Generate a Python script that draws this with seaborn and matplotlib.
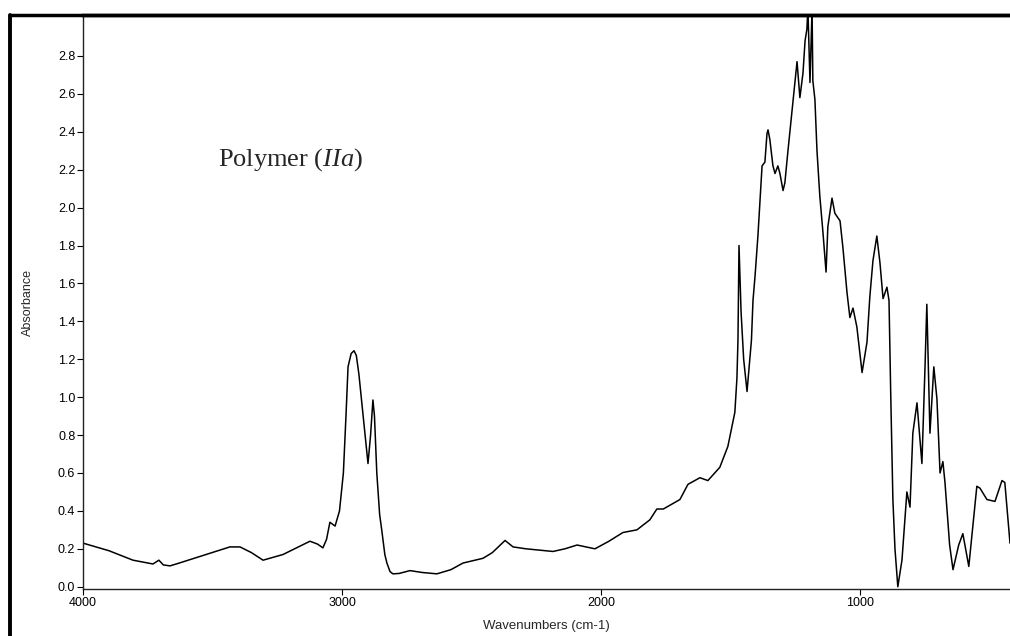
import matplotlib
matplotlib.use("Agg")
import matplotlib.pyplot as plt
from matplotlib.lines import Line2D
import seaborn as sns
import pandas as pd

# IR absorbance spectrum of polymer IIa (wavenumber in cm-1, absorbance)
wavenumbers = [
    4000, 3900, 3807, 3730, 3707, 3690, 3664, 3626, 3548, 3480, 3433, 3394,
    3350, 3305, 3228, 3124, 3095, 3074, 3060, 3047, 3027, 3010, 2995, 2985,
    2977, 2965, 2954, 2945, 2935, 2920, 2900, 2890, 2881, 2875, 2866, 2855,
    2847, 2835, 2827, 2815, 2804, 2780, 2738, 2690, 2634, 2580, 2533, 2456,
    2420, 2371, 2340, 2290, 2186, 2140, 2093, 2024, 1970, 1916, 1862, 1812,
    1785, 1760, 1696, 1665, 1619, 1588, 1542, 1511, 1484, 1476, 1472, 1468,
    1460, 1450, 1437, 1420, 1414, 1406, 1395, 1387, 1379, 1368, 1360, 1356,
    1349, 1337, 1329, 1318, 1310, 1298, 1291, 1279, 1264, 1244, 1233, 1221,
    1213, 1206, 1202, 1194, 1186, 1183, 1175, 1167, 1156, 1144, 1132, 1125,
    1109, 1098, 1078, 1067, 1051, 1040, 1028, 1013, 993, 974, 963, 951, 936,
    924, 912, 897, 889, 882, 874, 866, 855, 839, 820, 808, 797, 781, 762, 750,
    743, 731, 716, 704, 692, 681, 673, 655, 642, 620, 604, 581, 550, 538, 511,
    480, 453, 442, 422,
]
absorbance = [
    0.23, 0.19, 0.14, 0.12, 0.14, 0.115, 0.11, 0.126, 0.16, 0.19, 0.21, 0.21,
    0.18, 0.14, 0.17, 0.24, 0.225, 0.205, 0.25, 0.34, 0.32, 0.40, 0.60, 0.90,
    1.16, 1.23, 1.245, 1.22, 1.12, 0.92, 0.65, 0.80, 0.985, 0.90, 0.60, 0.38,
    0.30, 0.17, 0.125, 0.08, 0.068, 0.07, 0.085, 0.075, 0.068, 0.09, 0.125, 0.15,
    0.18, 0.244, 0.21, 0.20, 0.186, 0.20, 0.22, 0.20, 0.24, 0.286, 0.30, 0.353,
    0.41, 0.41, 0.46, 0.54, 0.575, 0.56, 0.63, 0.74, 0.92, 1.10, 1.30, 1.80,
    1.45, 1.20, 1.03, 1.30, 1.51, 1.64, 1.85, 2.04, 2.22, 2.24, 2.39, 2.41,
    2.36, 2.22, 2.18, 2.22, 2.18, 2.09, 2.13, 2.30, 2.50, 2.77, 2.58, 2.71,
    2.88, 2.94, 3.05, 2.66, 3.05, 2.67, 2.57, 2.30, 2.06, 1.87, 1.66, 1.90,
    2.05, 1.97, 1.93, 1.79, 1.55, 1.42, 1.47, 1.37, 1.13, 1.29, 1.53, 1.72, 1.85,
    1.71, 1.52, 1.58, 1.51, 0.99, 0.46, 0.20, 0.0, 0.14, 0.50, 0.42, 0.81, 0.97, 0.65,
    1.16, 1.49, 0.81, 1.16, 0.99, 0.60, 0.66, 0.55, 0.22, 0.09, 0.22, 0.28, 0.107, 0.53,
    0.52, 0.46, 0.45, 0.56, 0.55, 0.23,
]

y_ticks = [0.0, 0.2, 0.4, 0.6, 0.8, 1.0, 1.2, 1.4, 1.6, 1.8, 2.0, 2.2, 2.4, 2.6, 2.8]
x_ticks = [4000, 3000, 2000, 1000]

sns.set_style("ticks")
plt.rcParams["font.family"] = ["Liberation Sans", "DejaVu Sans"]
plt.rcParams["mathtext.fontset"] = "custom"
plt.rcParams["mathtext.rm"] = "Liberation Serif"
plt.rcParams["mathtext.it"] = "Liberation Serif:italic"

W, H = 1010, 636
fig = plt.figure(figsize=(W / 100, H / 100), dpi=100)
fig.patch.set_facecolor("white")

left, right, top, bottom = 83, 1010, 15, 589
ax = fig.add_axes([left / W, 1 - bottom / H, (right - left) / W, (bottom - top) / H])

df = pd.DataFrame({"wavenumber": wavenumbers, "absorbance": absorbance})
sns.lineplot(data=df, x="wavenumber", y="absorbance", ax=ax, sort=False,
             estimator=None, color="black", linewidth=1.1)

ax.set_xlim(4000, 422)
ax.set_ylim(-0.012, 3.016)
ax.set_xticks(x_ticks)
ax.set_xticklabels([str(t) for t in x_ticks])
ax.set_yticks(y_ticks)
ax.set_yticklabels([f"{t:.1f}" for t in y_ticks])
ax.tick_params(axis="both", direction="out", length=4, width=0.8,
               labelsize=9, pad=1.5, colors="black")

ax.set_xlabel("Wavenumbers (cm-1)", fontsize=9.5, labelpad=8)
ax.set_ylabel("Absorbance", fontsize=9, labelpad=17)

for side in ("left", "bottom"):
    ax.spines[side].set_linestyle((0, (1, 1)))
    ax.spines[side].set_linewidth(1.0)
    ax.spines[side].set_color("#222222")
ax.spines["top"].set_linewidth(2.5)
ax.spines["top"].set_color("black")
ax.spines["right"].set_visible(False)

# outer frame border on the left and top
fig.add_artist(Line2D([10 / W, 10 / W], [0, 1 - top / H], color="black",
                      linewidth=2.8, transform=fig.transFigure))
fig.add_artist(Line2D([10 / W, 1], [1 - top / H, 1 - top / H], color="black",
                      linewidth=2.5, transform=fig.transFigure))

fig.text(218 / W, 1 - 166 / H, r"Polymer ($\mathit{IIa}$)", fontsize=19,
         family="Liberation Serif", ha="left", va="baseline")

fig.savefig("out.png", dpi=100)
